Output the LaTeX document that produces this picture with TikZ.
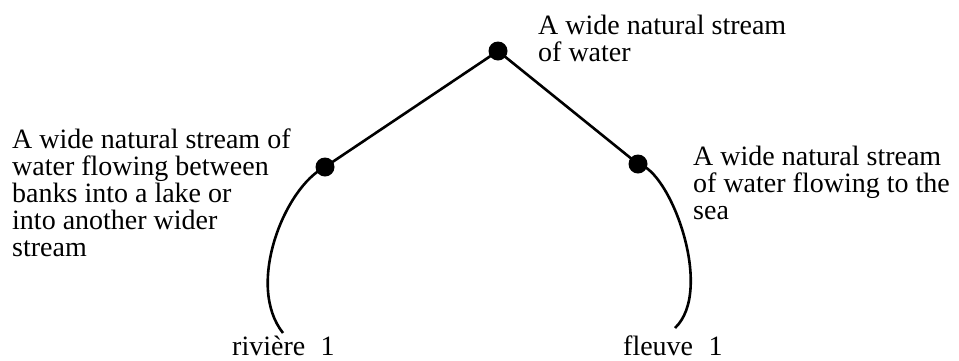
\documentclass[tikz,border=0pt]{standalone}
\usepackage{fontspec}
\setmainfont{Liberation Serif}
\usepackage{tikz}

\begin{document}
\begin{tikzpicture}[x=1pt,y=-1pt,
    dot/.style={circle,fill=black,inner sep=0pt,minimum size=19pt},
    gloss/.style={anchor=base west,align=left,inner sep=0pt,
        font=\fontsize{28}{27}\selectfont},
    word/.style={gloss,text depth=0pt},
    wire/.style={line width=2.6pt}]
    \useasboundingbox (0,0) rectangle (959,360);
    % sense nodes
    \node[dot] (top) at (498,51) {};
    \node[dot] (riv) at (325,167) {};
    \node[dot] (flv) at (638,164) {};
    \draw[wire] (top.center) -- (riv.center);
    \draw[wire] (top.center) -- (flv.center);
    % glosses (base = last line)
    \node[gloss] (topgl) at (538,61) {A wide natural stream\\of water};
    \node[gloss] (rivgl) at (12,256) {A wide natural stream of\\water flowing between\\banks into a lake or\\into another wider\\stream};
    \node[gloss] (flvgl) at (693,219) {A wide natural stream\\of water flowing to the\\sea};
    % words
    \node[word] (rivw) at (232,355) {rivière\hspace{0.55em}1};
    \node[word] (flvw) at (623,355) {fleuve\hspace{0.55em}1};
    \coordinate (rivend) at (283,333);
    \coordinate (flvend) at (675,328);
    \draw[wire] (riv.center) .. controls (285,187) and (245,285) .. (rivend);
    \draw[wire] (flv.center) .. controls (670,170) and (715,290) .. (flvend);
\end{tikzpicture}
\end{document}
